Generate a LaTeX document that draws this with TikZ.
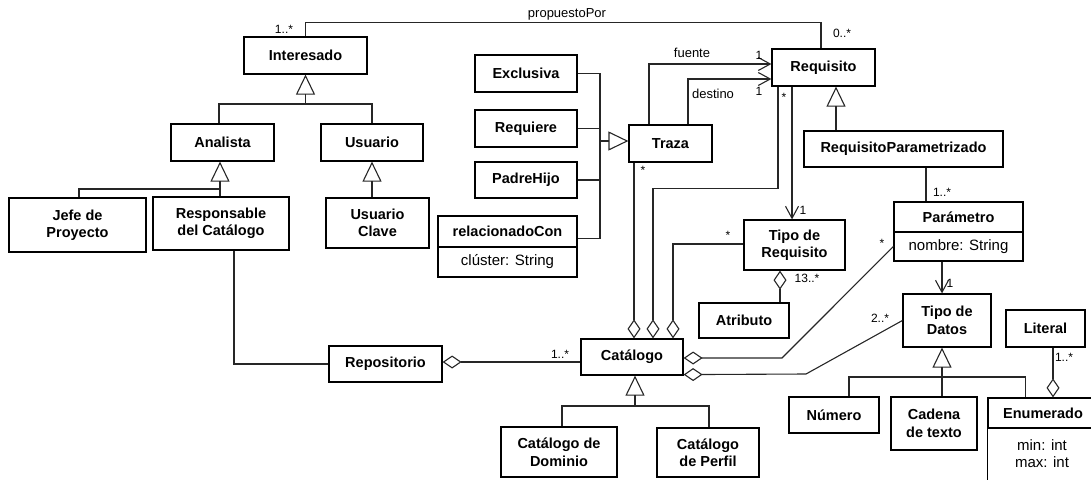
\documentclass[tikz,border=0pt]{standalone}
\usepackage{fontspec}
\setmainfont{Liberation Sans}
\usetikzlibrary{arrows.meta}
\begin{document}
\begin{tikzpicture}[x=1pt,y=-1pt,
  cls/.style={draw=black, line width=1.2pt, inner sep=0pt, align=center,
    font=\fontsize{14.5}{17.5}\selectfont\bfseries},
  attrtext/.style={inner sep=0pt, align=center, font=\fontsize{15}{17}\selectfont},
  attr/.style={attrtext, draw=black, line width=1.2pt},
  link/.style={draw=black!85, line width=1.1pt},
  gen/.style={link, -{Triangle[open,length=20pt,width=19pt]}},
  nav/.style={link, -{Straight Barb[length=12pt,width=13pt]}},
  aggr/.style={link, {Diamond[open,length=19pt,width=13pt]}-},
  mult/.style={inner sep=0pt, font=\fontsize{12}{14}\selectfont},
  role/.style={inner sep=0pt, font=\fontsize{13}{15}\selectfont}]
\useasboundingbox (0,0) rectangle (1091,479);
\clip (0,0) rectangle (1091,479);

% ---- stakeholders ----
\node[cls, minimum width=123pt, minimum height=37pt] (Interesado) at (305.5,55.5) {Interesado};
\node[cls, minimum width=103pt, minimum height=37pt] (Analista) at (222.5,142.5) {Analista};
\node[cls, minimum width=102pt, minimum height=37pt] (Usuario) at (372,142.5) {Usuario};
\node[cls, minimum width=137pt, minimum height=54pt] (Jefe) at (77.5,225) {Jefe de\\Proyecto};
\node[cls, minimum width=136pt, minimum height=53pt] (Responsable) at (221,223.5) {Responsable\\del Catálogo};
\node[cls, minimum width=103pt, minimum height=50pt] (Clave) at (377.5,223) {Usuario\\Clave};
\node[cls, minimum width=113pt, minimum height=36pt] (Repositorio) at (385.5,364) {Repositorio};

% ---- traces ----
\node[cls, minimum width=102pt, minimum height=37pt] (Exclusiva) at (526,73.5) {Exclusiva};
\node[cls, minimum width=102pt, minimum height=37pt] (Requiere) at (526,128.5) {Requiere};
\node[cls, minimum width=102pt, minimum height=36pt] (PadreHijo) at (526,180) {PadreHijo};
\node[cls, minimum width=139pt, minimum height=31pt] (Rel) at (507.5,231.5) {relacionadoCon};
\node[attr, minimum width=139pt, minimum height=30pt] (RelAttr) at (507.5,262) {clúster: String};
\node[cls, minimum width=83pt, minimum height=37pt] (Traza) at (670.5,143.5) {Traza};

% ---- requirements ----
\node[cls, minimum width=103pt, minimum height=37pt] (Requisito) at (823.5,67.5) {Requisito};
\node[cls, minimum width=199pt, minimum height=36pt] (RP) at (903.5,149) {RequisitoParametrizado};
\node[cls, minimum width=129pt, minimum height=30pt] (Param) at (958.5,217) {Parámetro};
\node[attr, minimum width=129pt, minimum height=29pt] (ParamAttr) at (958.5,246.5) {nombre: String};
\node[cls, minimum width=101pt, minimum height=50pt] (TipoReq) at (794.5,245) {Tipo de\\Requisito};
\node[cls, minimum width=90pt, minimum height=35pt] (Atributo) at (744,320.5) {Atributo};

% ---- catalogues ----
\node[cls, minimum width=102pt, minimum height=36pt] (Catalogo) at (632,357) {Catálogo};
\node[cls, minimum width=116pt, minimum height=50pt] (CatDom) at (559,452) {Catálogo de\\Dominio};
\node[cls, minimum width=102pt, minimum height=49pt] (CatPerfil) at (708,452.5) {Catálogo\\de Perfil};

% ---- data types ----
\node[cls, minimum width=88pt, minimum height=53pt] (TipoDatos) at (947,320.5) {Tipo de\\Datos};
\node[cls, minimum width=90pt, minimum height=36pt] (Numero) at (834,415) {Número};
\node[cls, minimum width=86pt, minimum height=53pt] (Cadena) at (934,423.5) {Cadena\\de texto};
\node[cls, minimum width=79pt, minimum height=37pt] (Literal) at (1045.5,328.5) {Literal};
\node[cls, minimum width=110pt, minimum height=30pt] (Enum) at (1043,413) {Enumerado};
% attribute compartment runs on past the lower edge
\draw[draw=black, line width=1.2pt] (Enum.south west) rectangle ++(110,80);
\node[attrtext] (EnumAttr) at (1042,454) {min: int\\max: int};

% ---- generalizations ----
\draw[gen] ([xshift=-3.5pt]Analista.north) |- (305.5,104) -- (Interesado.south);
\draw[link] (Usuario.north) |- (305.5,104);
\draw[gen] ([xshift=-1pt]Responsable.north) -- ([xshift=-2.5pt]Analista.south);
\draw[link] ([xshift=1.5pt]Jefe.north) |- (220,189);
\draw[gen] (Usuario.south |- Clave.north) -- (Usuario.south);
\coordinate (hub) at (600,141);
\draw[link] (Exclusiva.east) -| (hub);
\draw[link] (Requiere.east) -- (Requiere.east -| hub);
\draw[link] (PadreHijo.east) -- (PadreHijo.east -| hub);
\draw[link] ([yshift=-7pt]Rel.east) -| (hub);
\draw[gen] (hub) -- (Traza.west |- hub);
\draw[gen] ([xshift=-67.5pt]RP.north) -- ([xshift=12.5pt]Requisito.south);
\draw[gen] ([xshift=3pt]CatDom.north) |- (635,406) -- ([xshift=3pt]Catalogo.south);
\draw[link] ([xshift=1pt]CatPerfil.north) |- (635,406);
\draw[gen] ([xshift=8pt]Cadena.north) -- ([xshift=-5pt]TipoDatos.south);
\draw[link] ([xshift=15pt]Numero.north) |- (942,377);
\draw[link] ([xshift=38pt]Enum.north west) |- (942,377);

% ---- associations ----
\draw[link] (Interesado.north) -- ++(0,-14) -| ([xshift=-2.5pt]Requisito.north);
\node[role] at (567,14) {propuestoPor};
\node[mult] at (284,29) {1..*};
\node[mult] at (842,33) {0..*};

\draw[link] ([xshift=13pt]Responsable.south) |- (Repositorio.west);

\draw[nav] ([xshift=-21.5pt]Traza.north) |- ([yshift=3.5pt]Requisito.west);
\draw[nav] ([xshift=17.5pt]Traza.north) |- ([yshift=-11.5pt]Requisito.west);
\node[role] at (692,53) {fuente};
\node[role] at (713,94) {destino};
\node[mult] at (759,55) {1};
\node[mult] at (759,91) {1};

\draw[nav] ([xshift=-31.5pt]Requisito.south) -- ([xshift=-2.5pt]TipoReq.north);
\node[mult] at (803,210) {1};

\draw[link] ([xshift=22.5pt]RP.south) -- ([xshift=-32.5pt]Param.north);
\node[mult] at (942,192) {1..*};

\draw[nav] ([xshift=-16.5pt]ParamAttr.south) -- ([xshift=-5pt]TipoDatos.north);
\node[mult] at (950,283) {1};

% ---- aggregations ----
\draw[aggr] ([yshift=2pt]Repositorio.east) -- ([yshift=2pt]Repositorio.east -| Catalogo.west);
\node[mult] at (560,354) {1..*};

\draw[aggr] ([xshift=2pt]Catalogo.north) -- ([xshift=2pt]Catalogo.north |- Traza.south);
\node[mult] at (643,170) {*};

\draw[aggr] ([xshift=21pt]Catalogo.north) -- ++(0,-150) -| ([xshift=-45.5pt]Requisito.south);
\node[mult] at (784,97) {*};

\draw[aggr] ([xshift=41pt]Catalogo.north) |- ([yshift=1pt]TipoReq.west);
\node[mult] at (728,235) {*};

\draw[aggr] ([xshift=-14.5pt]TipoReq.south) -- ([xshift=-14.5pt]TipoReq.south |- Atributo.north);
\node[mult] at (807,278) {13..*};

\draw[aggr] ([yshift=-1pt]Catalogo.east) -- (782,358) -- (ParamAttr.west);
\node[mult] at (882,243) {*};

\draw[aggr] ([yshift=1pt]Catalogo.south east) -- (806,374) -- (TipoDatos.west);
\node[mult] at (880,318) {2..*};

\draw[aggr] ([xshift=10pt]Enum.north) -- ([xshift=10pt]Enum.north |- Literal.south);
\node[mult] at (1064,357) {1..*};
\end{tikzpicture}
\end{document}
